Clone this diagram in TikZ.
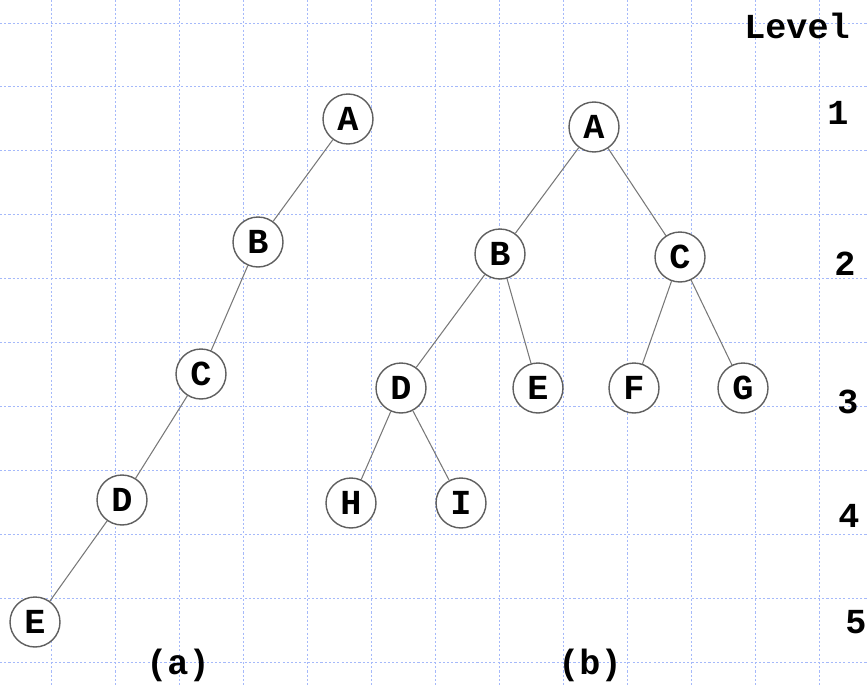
\documentclass[tikz,border=0pt]{standalone}
\usepackage{fontspec}
\setmonofont{Liberation Mono}
\usetikzlibrary{positioning}
\definecolor{gridBlue}{RGB}{165,185,250}
\definecolor{edgeGray}{RGB}{120,120,120}
\definecolor{ringGray}{RGB}{95,95,95}

\begin{document}
\begin{tikzpicture}[
    x=0.02cm, y=-0.02cm,
    grid line/.style={gridBlue, line width=0.55pt, dash pattern=on 1.2pt off 1.2pt},
    tree node/.style={circle, draw=ringGray, line width=0.8pt, fill=white, minimum size=1cm, inner sep=0pt, font=\ttfamily\bfseries\fontsize{20}{22}\selectfont},
    tree edge/.style={edgeGray, line width=0.6pt},
    level note/.style={font=\ttfamily\bfseries\fontsize{20}{22}\selectfont, inner sep=0pt}
]
  \useasboundingbox (0,0) rectangle (868,686);

  % dotted background grid
  \foreach \gx in {0,...,12} {
    \draw[grid line] (51+64*\gx,0) -- (51+64*\gx,686);
  }
  \foreach \gy in {0,...,10} {
    \draw[grid line] (0,23+63.9*\gy) -- (868,23+63.9*\gy);
  }

  % (a) skewed tree
  \node[tree node] (aA) at (348,119) {A};
  \node[tree node] (aB) at (258,242) {B};
  \node[tree node] (aC) at (201,374) {C};
  \node[tree node] (aD) at (122,500) {D};
  \node[tree node] (aE) at (35,622) {E};

  \draw[tree edge] (aA) -- (aB);
  \draw[tree edge] (aB) -- (aC);
  \draw[tree edge] (aC) -- (aD);
  \draw[tree edge] (aD) -- (aE);

  % (b) complete tree
  \node[tree node] (bA) at (594,127) {A};
  \node[tree node] (bB) at (500,254) {B};
  \node[tree node] (bC) at (680,257) {C};
  \node[tree node] (bD) at (401,388) {D};
  \node[tree node] (bE) at (538,388) {E};
  \node[tree node] (bF) at (634,388) {F};
  \node[tree node] (bG) at (743,388) {G};
  \node[tree node] (bH) at (351,503) {H};
  \node[tree node] (bI) at (461,503) {I};

  \draw[tree edge] (bA) -- (bB);
  \draw[tree edge] (bA) -- (bC);
  \draw[tree edge] (bB) -- (bD);
  \draw[tree edge] (bB) -- (bE);
  \draw[tree edge] (bC) -- (bF);
  \draw[tree edge] (bC) -- (bG);
  \draw[tree edge] (bD) -- (bH);
  \draw[tree edge] (bD) -- (bI);

  % captions and levels
  \node[level note] (capA) at (178,665) {(a)};
  \node[level note] (capB) at (590,665) {(b)};
  \node[level note] (lvTitle) at (797,26) {Level};
  \node[level note] (lv1) at (838,113) {1};
  \node[level note] (lv2) at (845,264) {2};
  \node[level note] (lv3) at (848,402) {3};
  \node[level note] (lv4) at (849,516) {4};
  \node[level note] (lv5) at (856,622) {5};
\end{tikzpicture}
\end{document}
